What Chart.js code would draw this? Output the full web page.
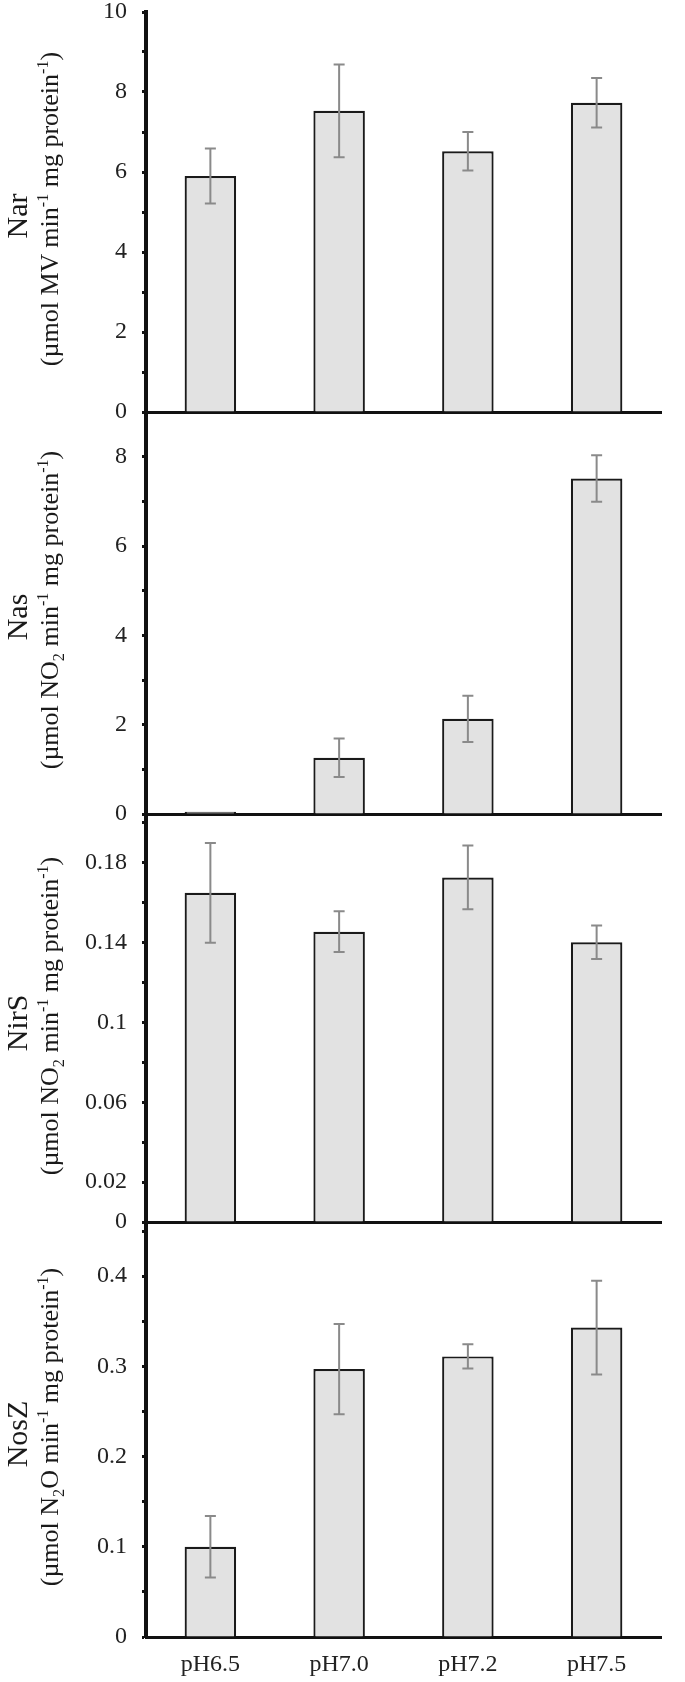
<!DOCTYPE html>
<html>
<head>
<meta charset="utf-8">
<script src="https://cdn.jsdelivr.net/npm/chart.js@4.4.0/dist/chart.umd.min.js"></script>
<style>
  body { margin: 0; background: #fff; width: 685px; height: 1682px; position: relative; overflow: hidden;
         font-family: "Liberation Serif", "Times New Roman", serif; color: #1a1a1a; }
  canvas { position: absolute; left: 0; }
  .ttl { position: absolute; white-space: nowrap; line-height: 1; transform: translate(-50%, -50%) rotate(-90deg); }
  .name { font-size: 30px; }
  .unit { font-size: 26px; }
  sup, sub { font-size: 0.62em; line-height: 0; }
</style>
</head>
<body>
<script>
// pH treatments
var phLabels = ['pH6.5', 'pH7.0', 'pH7.2', 'pH7.5'];

// Nar activity
var narMean = [5.9, 7.53, 6.52, 7.73];
var narErr  = [0.69, 1.16, 0.48, 0.62];
var narTicks = [0, 1, 2, 3, 4, 5, 6, 7, 8, 9, 10];
var narShown = [0, 2, 4, 6, 8, 10];

// Nas activity
var nasMean = [0.05, 1.26, 2.13, 7.51];
var nasErr  = [0, 0.43, 0.52, 0.52];
var nasTicks = [0, 1, 2, 3, 4, 5, 6, 7, 8, 9];
var nasShown = [0, 2, 4, 6, 8];

// NirS activity
var nirsMean = [0.165, 0.1455, 0.1727, 0.1402];
var nirsErr  = [0.025, 0.0102, 0.016, 0.0084];
var nirsTicks = [0, 0.02, 0.04, 0.06, 0.08, 0.1, 0.12, 0.14, 0.16, 0.18, 0.2];
var nirsShown = [0, 0.02, 0.06, 0.1, 0.14, 0.18];

// NosZ activity
var noszMean = [0.1, 0.297, 0.311, 0.343];
var noszErr  = [0.034, 0.05, 0.0135, 0.052];
var noszTicks = [0, 0.05, 0.1, 0.15, 0.2, 0.25, 0.3, 0.35, 0.4, 0.45];
var noszShown = [0, 0.1, 0.2, 0.3, 0.4];

var panels = [
  { name: 'Nar',  unit: '(µmol MV min<sup>-1</sup> mg protein<sup>-1</sup>)',
    mean: narMean, err: narErr, max: 10, ticks: narTicks, shown: narShown, top: 12, bottom: 412 },
  { name: 'Nas',  unit: '(µmol NO<sub>2</sub> min<sup>-1</sup> mg protein<sup>-1</sup>)',
    mean: nasMean, err: nasErr, max: 9, ticks: nasTicks, shown: nasShown, top: 412, bottom: 814 },
  { name: 'NirS', unit: '(µmol NO<sub>2</sub> min<sup>-1</sup> mg protein<sup>-1</sup>)',
    mean: nirsMean, err: nirsErr, max: 0.204, ticks: nirsTicks, shown: nirsShown, top: 815, bottom: 1222 },
  { name: 'NosZ', unit: '(µmol N<sub>2</sub>O min<sup>-1</sup> mg protein<sup>-1</sup>)',
    mean: noszMean, err: noszErr, max: 0.46, ticks: noszTicks, shown: noszShown, top: 1222, bottom: 1637 }
];

var fontFam = '"Liberation Serif", "Times New Roman", serif';

function errorBarPlugin(mean, errs) {
  return {
    id: 'errorBars',
    afterDatasetsDraw: function (chart) {
      var ctx = chart.ctx, xs = chart.scales.x, ys = chart.scales.y;
      ctx.save();
      ctx.strokeStyle = '#8a8a8a';
      ctx.lineWidth = 2;
      mean.forEach(function (v, i) {
        if (!errs[i]) return;
        var x = xs.getPixelForValue(i);
        var y1 = ys.getPixelForValue(v + errs[i]);
        var y2 = ys.getPixelForValue(v - errs[i]);
        ctx.beginPath();
        ctx.moveTo(x, y1); ctx.lineTo(x, y2);
        ctx.moveTo(x - 5.5, y1); ctx.lineTo(x + 5.5, y1);
        ctx.moveTo(x - 5.5, y2); ctx.lineTo(x + 5.5, y2);
        ctx.stroke();
      });
      ctx.restore();
    }
  };
}

panels.forEach(function (p, idx) {
  var last = idx === panels.length - 1;
  var padTop = 14;
  var extra = last ? 1682 - p.bottom : 6;

  var cv = document.createElement('canvas');
  cv.width = 685;
  cv.height = p.bottom - p.top + padTop + extra;
  cv.style.top = (p.top - padTop) + 'px';
  document.body.appendChild(cv);

  new Chart(cv, {
    type: 'bar',
    data: {
      labels: phLabels,
      datasets: [{
        data: p.mean,
        backgroundColor: '#e2e2e2',
        borderColor: '#1a1a1a',
        borderWidth: 2.2,
        barPercentage: 0.4,
        categoryPercentage: 1
      }]
    },
    options: {
      responsive: false,
      animation: false,
      events: [],
      layout: { padding: { top: padTop, right: 24, bottom: last ? 0 : extra, left: 0 } },
      plugins: { legend: { display: false }, tooltip: { enabled: false } },
      scales: {
        x: {
          grid: { display: false, drawTicks: false },
          border: { display: true, color: '#111', width: 3 },
          ticks: { display: last, color: '#222', padding: 13, font: { family: fontFam, size: 24 } },
          afterFit: function (s) {
            s.height = last ? extra : 0;
            s.paddingLeft = 0; s.paddingRight = 0;
          }
        },
        y: {
          min: 0,
          max: p.max,
          grid: { display: true, drawOnChartArea: false, drawTicks: true, tickLength: 4, tickWidth: 3, color: '#111' },
          border: { display: true, color: '#111', width: 4 },
          ticks: {
            autoSkip: false,
            padding: 15,
            color: '#222',
            font: { family: fontFam, size: 24 },
            callback: function (v) { return p.shown.indexOf(v) >= 0 ? String(v) : ''; }
          },
          afterBuildTicks: function (s) { s.ticks = p.ticks.map(function (v) { return { value: v }; }); },
          afterFit: function (s) {
            s.width = 146;
            s.paddingTop = 0; s.paddingBottom = 0;
          }
        }
      }
    },
    plugins: [errorBarPlugin(p.mean, p.err)]
  });

  var mid = (p.top + p.bottom) / 2;
  var n = document.createElement('div');
  n.className = 'ttl name';
  n.textContent = p.name;
  n.style.left = '17px';
  n.style.top = (mid + 4) + 'px';
  document.body.appendChild(n);

  var u = document.createElement('div');
  u.className = 'ttl unit';
  u.innerHTML = p.unit;
  u.style.left = '50px';
  u.style.top = (mid - 3) + 'px';
  document.body.appendChild(u);
});
</script>
</body>
</html>
